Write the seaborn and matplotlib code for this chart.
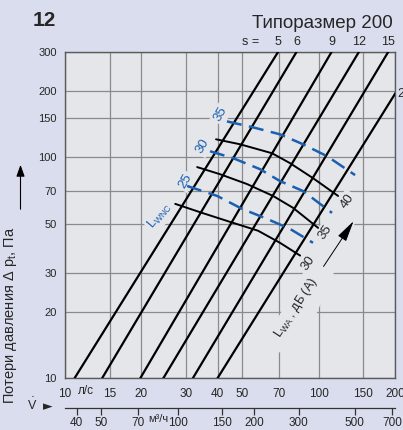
import matplotlib
matplotlib.use('Agg')
import matplotlib.pyplot as plt
from matplotlib.patches import Polygon, FancyArrowPatch
from matplotlib.ticker import NullLocator, NullFormatter
import numpy as np
import pandas as pd
import seaborn as sns

# s-lines: volume flow (l/s) read at 10 Pa and at 300 Pa
s_labels = ['5', '6', '9', '12', '15', '20']
s_v_10pa = [10.9, 14.0, 19.8, 24.4, 31.9, 39.9]
s_v_300pa = [69.3, 81.9, 112.6, 144.3, 188.3, 254.0]

# L_WA curves (black, dB(A))
lwa40_v = [39.4, 49.0, 65.5, 77.1, 95.0, 119.3]
lwa40_dp = [120.5, 114.4, 104.2, 94.0, 80.4, 66.8]
lwa35_v = [33.2, 40.8, 52.2, 66.1, 79.3, 99.5]
lwa35_dp = [90.2, 83.8, 75.6, 66.8, 59.0, 47.9]
lwa30_v = [27.2, 34.7, 44.7, 57.7, 70.4, 84.5]
lwa30_dp = [61.5, 56.0, 51.0, 46.5, 41.0, 35.9]

# L_WNC curves (blue dashed)
lwnc35_v = [43.5, 55.1, 70.4, 86.8, 108.0, 139.2]
lwnc35_dp = [145.2, 136.5, 126.9, 114.4, 101.0, 83.0]
lwnc30_v = [37.3, 46.0, 58.7, 70.4, 86.8, 112.9]
lwnc30_dp = [106.4, 99.0, 88.3, 78.0, 70.3, 56.0]
lwnc25_v = [30.3, 39.8, 49.9, 62.6, 77.1, 95.0]
lwnc25_dp = [74.1, 66.8, 58.4, 52.6, 47.4, 41.0]

x_ticks = [10, 15, 20, 30, 40, 50, 70, 100, 150, 200]
y_ticks = [10, 20, 30, 50, 70, 100, 150, 200, 300]
m3h_ticks = [40, 50, 70, 100, 150, 200, 300, 500, 700]

sns.set_style('white')
plt.rcParams['font.family'] = ['Liberation Sans', 'DejaVu Sans']
plt.rcParams['mathtext.fontset'] = 'dejavusans'

fig_bg = '#dadded'
ax_bg = '#e5e6e9'
blue = '#1a5fb0'

fig = plt.figure(figsize=(4.03, 4.30), dpi=100)
fig.patch.set_facecolor(fig_bg)
ax = fig.add_axes([65 / 403, 1 - 378.3 / 430, 330 / 403, 326.6 / 430])
ax.set_facecolor(ax_bg)
ax.set_xscale('log')
ax.set_yscale('log')

s_df = pd.DataFrame({'s': s_labels * 2,
                     'V': s_v_10pa + s_v_300pa,
                     'dp': [10] * 6 + [300] * 6})
lwa_df = pd.concat([
    pd.DataFrame({'L': 40, 'V': lwa40_v, 'dp': lwa40_dp}),
    pd.DataFrame({'L': 35, 'V': lwa35_v, 'dp': lwa35_dp}),
    pd.DataFrame({'L': 30, 'V': lwa30_v, 'dp': lwa30_dp}),
])
lwnc_df = pd.concat([
    pd.DataFrame({'L': 35, 'V': lwnc35_v, 'dp': lwnc35_dp}),
    pd.DataFrame({'L': 30, 'V': lwnc30_v, 'dp': lwnc30_dp}),
    pd.DataFrame({'L': 25, 'V': lwnc25_v, 'dp': lwnc25_dp}),
])

sns.lineplot(data=s_df, x='V', y='dp', units='s', estimator=None,
             color='black', lw=1.6, ax=ax, zorder=3)
sns.lineplot(data=lwa_df, x='V', y='dp', units='L', estimator=None,
             color='black', lw=1.4, ax=ax, zorder=3)
sns.lineplot(data=lwnc_df, x='V', y='dp', units='L', estimator=None,
             color=blue, lw=1.8, linestyle=(0, (6, 3)), ax=ax, zorder=3)

ax.set_xlim(10, 200)
ax.set_ylim(10, 300)
ax.set_xticks(x_ticks, [str(t) for t in x_ticks])
ax.set_yticks(y_ticks, [str(t) for t in y_ticks])
ax.xaxis.set_minor_locator(NullLocator())
ax.yaxis.set_minor_locator(NullLocator())
ax.tick_params(axis='x', length=0, pad=7, labelsize=8.5)
ax.tick_params(axis='y', length=0, pad=6, labelsize=8)
ax.grid(True, which='major', color='#8a8a8a', lw=0.9)
ax.set_axisbelow(True)
ax.set_xlabel('')
ax.set_ylabel('')
for sp in ax.spines.values():
    sp.set_visible(True)
    sp.set_color('#5a5a5a')
    sp.set_linewidth(1.0)

# gridlines are left out around the L_WA caption
mask = Polygon([(61.5, 13.1), (84.5, 13.1), (143.0, 54.3), (110.9, 54.3)],
               closed=True, facecolor=ax_bg, edgecolor='none', zorder=1.5)
ax.add_patch(mask)

# second flow scale in m3/h
sec = ax.secondary_xaxis(-0.09, functions=(lambda v: v * 3.6, lambda m: m / 3.6))
sec.set_xticks(m3h_ticks, [str(t) for t in m3h_ticks])
sec.xaxis.set_minor_locator(NullLocator())
sec.xaxis.set_minor_formatter(NullFormatter())
sec.tick_params(axis='x', length=5, width=0.9, direction='out', pad=1.5,
                labelsize=8.5, color='#333333')
sec.spines['bottom'].set_color('#333333')
sec.spines['bottom'].set_linewidth(0.9)

# s labels at line tops
for lab, v in zip(s_labels[:5], s_v_300pa[:5]):
    ax.annotate(lab, xy=(v, 300), xytext=(0, 3), textcoords='offset points',
                ha='center', va='bottom', fontsize=9, annotation_clip=False)
ax.annotate('s =', xy=(s_v_300pa[0], 300), xytext=(-14, 3),
            textcoords='offset points', ha='right', va='bottom', fontsize=9,
            annotation_clip=False)
n_last = np.log(300 / 10) / np.log(s_v_300pa[5] / s_v_10pa[5])
dp_edge = 10 * (200 / s_v_10pa[5]) ** n_last
ax.annotate(s_labels[5], xy=(200, dp_edge), xytext=(2, 0),
            textcoords='offset points', ha='left', va='center', fontsize=9,
            annotation_clip=False)

lab_box = dict(boxstyle='square,pad=0.15', fc=ax_bg, ec='none')
for txt, v, dp in [('40', 129.4, 63.4), ('35', 106.0, 46.0), ('30', 90.8, 33.0)]:
    ax.text(v, dp, txt, rotation=55, ha='center', va='center', fontsize=9.5,
            bbox=lab_box, zorder=2)
for txt, v, dp in [('35', 41.2, 156.1), ('30', 35.0, 112.1), ('25', 29.7, 78.0)]:
    ax.text(v, dp, txt, rotation=60, ha='center', va='center', fontsize=9.5,
            color=blue, bbox=lab_box, zorder=2)
ax.text(23.7, 54.3, r'L$_\mathregular{WNC}$', rotation=50, ha='center',
        va='center', fontsize=9, color=blue, bbox=lab_box, zorder=2)
ax.text(81.5, 20.9, r'L$_\mathregular{WA}$ , дБ (A)', rotation=57,
        ha='center', va='center', fontsize=9, bbox=lab_box, zorder=2)
ax.annotate('', xy=(139.2, 52.6), xytext=(103.1, 31.3),
            arrowprops=dict(arrowstyle='-|>,head_length=1.3,head_width=0.3',
                            lw=0.7, color='black'), zorder=2)

# unit captions and header
fig.text(86 / 403, 1 - 391 / 430, 'л/с', ha='center', va='center', fontsize=8.5)
fig.text(158 / 403, 1 - 419 / 430, 'м³/ч', ha='center', va='center', fontsize=8)
fig.text(27 / 403, 1 - 405 / 430, r'$\dot{\mathregular{V}}$', ha='left',
         va='center', fontsize=9)
fig.text(43 / 403, 1 - 407 / 430, '►', ha='left', va='center', fontsize=9,
         family='DejaVu Sans')
fig.text(33 / 403, 1 - 21 / 430, '12', ha='left', va='center', fontsize=15,
         fontweight='bold')
fig.text(393 / 403, 1 - 23 / 430, 'Типоразмер 200', ha='right', va='center',
         fontsize=13.5)
fig.text(11 / 403, 1 - 315 / 430, r'Потери давления Δ p$_\mathregular{t}$, Па',
         rotation=90, ha='center', va='center', fontsize=10.5)
fig.add_artist(FancyArrowPatch(
    (20.5 / 403, 1 - 212 / 430), (20.5 / 403, 1 - 162 / 430),
    transform=fig.transFigure, arrowstyle='-|>,head_length=7,head_width=2.5',
    lw=0.8, color='black'))

fig.savefig('out.png', dpi=100, facecolor=fig_bg)
